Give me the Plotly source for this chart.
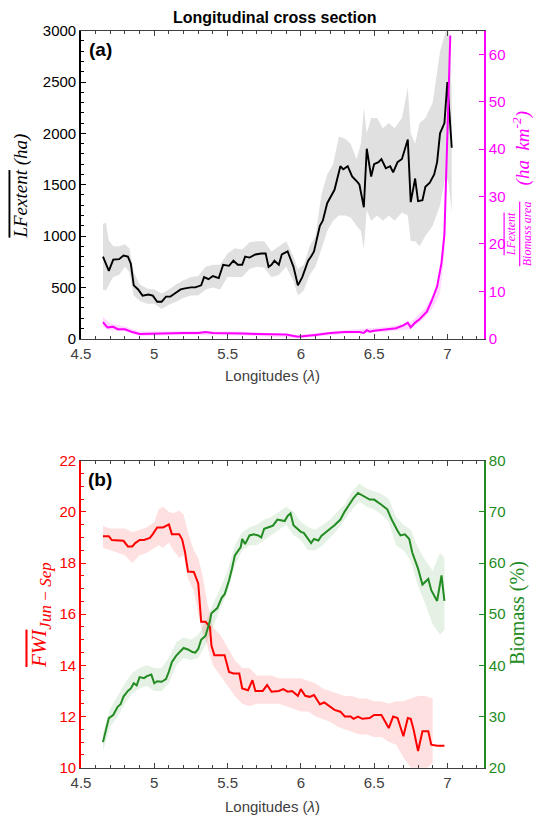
import plotly.graph_objects as go

# ---------------- Panel (a) data ----------------
lf_x = [4.65, 4.69, 4.72, 4.76, 4.79, 4.82, 4.84, 4.86, 4.89, 4.92, 4.96, 4.99, 5.02, 5.05,
        5.08, 5.11, 5.14, 5.18, 5.21, 5.25, 5.28, 5.32, 5.34, 5.37, 5.40, 5.44, 5.47, 5.51,
        5.54, 5.57, 5.60, 5.62, 5.65, 5.69, 5.73, 5.76, 5.78, 5.80, 5.82, 5.85, 5.87, 5.91,
        5.95, 5.98, 6.01, 6.05, 6.07, 6.09, 6.13, 6.15, 6.18, 6.21, 6.23, 6.27, 6.29, 6.32,
        6.35, 6.39, 6.40, 6.43, 6.45, 6.48, 6.50, 6.53, 6.55, 6.58, 6.61, 6.63, 6.66, 6.69,
        6.73, 6.75, 6.78, 6.80, 6.83, 6.85, 6.88, 6.91, 6.93, 6.95, 6.98, 7.00, 7.03]
lf_mean = [800, 660, 770, 775, 810, 800, 730, 520, 480, 420, 430, 420, 360, 360,
           410, 410, 440, 480, 490, 500, 500, 520, 600, 580, 610, 590, 720, 710,
           760, 720, 720, 800, 790, 820, 830, 830, 700, 720, 760, 720, 820, 850,
           700, 520, 600, 760, 800, 850, 1100, 1150, 1320, 1400, 1450, 1680, 1650, 1680,
           1580, 1520, 1500, 1280, 1850, 1580, 1700, 1720, 1750, 1660, 1680, 1620, 1720, 1750,
           1940, 1330, 1560, 1340, 1350, 1480, 1520, 1600, 1720, 2000, 2100, 2500, 1860]

lf_band_x = [4.65, 4.67, 4.69, 4.72, 4.76, 4.80, 4.83, 4.86, 4.90, 4.95, 5.00, 5.05, 5.10,
             5.15, 5.20, 5.25, 5.30, 5.35, 5.40, 5.45, 5.50, 5.55, 5.60, 5.65, 5.70, 5.75,
             5.80, 5.85, 5.90, 5.95, 5.98, 6.02, 6.06, 6.10, 6.14, 6.18, 6.22, 6.26, 6.30,
             6.34, 6.38, 6.41, 6.43, 6.45, 6.48, 6.52, 6.56, 6.60, 6.64, 6.69, 6.73, 6.75,
             6.78, 6.81, 6.85, 6.90, 6.95, 6.99, 7.01, 7.03]
lf_band_hi = [1120, 1130, 960, 900, 900, 920, 880, 650, 530, 490, 480, 440, 480,
              530, 570, 600, 610, 700, 720, 720, 830, 880, 870, 940, 950, 950,
              850, 900, 950, 800, 680, 720, 900, 1000, 1400, 1600, 1700, 1970, 1950,
              1900, 1750, 1900, 2250, 2000, 2150, 2150, 2050, 2100, 2050, 2150, 2450, 2000,
              1900, 2100, 2150, 2300, 2800, 3000, 3000, 2400]
lf_band_lo = [480, 470, 520, 600, 620, 700, 650, 420, 370, 340, 340, 290, 330,
              360, 400, 420, 420, 480, 500, 480, 600, 600, 600, 680, 700, 690,
              600, 620, 700, 560, 420, 470, 620, 700, 870, 1050, 1150, 1200, 1200,
              1180, 1100, 1050, 870, 1250, 1150, 1200, 1150, 1200, 1150, 1230, 1200, 950,
              950, 900, 1000, 1100, 1300, 1600, 1500, 1220]

ratio_x = [4.65, 4.68, 4.72, 4.75, 4.80, 4.85, 4.90, 5.00, 5.10, 5.20, 5.30, 5.35, 5.40,
           5.50, 5.60, 5.70, 5.80, 5.90, 5.98, 6.05, 6.10, 6.20, 6.30, 6.40, 6.43, 6.45,
           6.47, 6.50, 6.60, 6.65, 6.70, 6.73, 6.75, 6.78, 6.81, 6.86, 6.89, 6.93, 6.96,
           6.98, 7.00, 7.02]
ratio_mean = [3.5, 2.4, 2.5, 2.0, 2.0, 1.4, 1.0, 1.1, 1.1, 1.2, 1.2, 1.4, 1.2,
              1.2, 1.1, 1.0, 0.9, 0.9, 0.4, 0.6, 0.8, 1.2, 1.4, 1.4, 1.2, 1.8,
              1.5, 1.7, 2.0, 2.2, 2.8, 3.4, 2.4, 3.4, 4.1, 5.7, 7.8, 11.0, 16.0,
              22.0, 43.0, 64.0]
ratio_band_x = [4.65, 4.70, 4.80, 4.90, 5.20, 5.60, 5.98, 6.30, 6.60, 6.75, 6.85, 6.90,
                6.95, 6.98, 7.00, 7.02]
ratio_band_hi = [4.6, 3.2, 2.6, 1.5, 1.6, 1.5, 0.8, 1.8, 2.5, 3.5, 6.5, 9.0,
                 14.0, 25.0, 47.0, 65.0]
ratio_band_lo = [2.5, 1.8, 1.5, 0.6, 0.8, 0.7, 0.1, 1.0, 1.5, 2.0, 4.5, 6.5,
                 9.5, 18.0, 38.0, 60.0]

# ---------------- Panel (b) data ----------------
fwi_x = [4.65, 4.69, 4.71, 4.76, 4.79, 4.82, 4.85, 4.87, 4.90, 4.93, 4.97, 4.99, 5.02, 5.06,
         5.10, 5.12, 5.17, 5.19, 5.21, 5.23, 5.27, 5.30, 5.32, 5.35, 5.38, 5.39, 5.41, 5.45,
         5.48, 5.51, 5.54, 5.58, 5.60, 5.64, 5.67, 5.69, 5.74, 5.77, 5.80, 5.85, 5.88, 5.91,
         5.94, 5.98, 6.00, 6.03, 6.06, 6.09, 6.13, 6.16, 6.20, 6.23, 6.27, 6.30, 6.34, 6.36,
         6.39, 6.42, 6.47, 6.50, 6.55, 6.60, 6.63, 6.66, 6.70, 6.73, 6.75, 6.77, 6.80, 6.83,
         6.87, 6.89, 6.93, 6.98]
fwi_mean = [19.05, 19.05, 18.9, 18.88, 18.87, 18.65, 18.65, 18.78, 18.9, 18.9, 18.98, 19.13, 19.39, 19.39,
            19.51, 19.13, 19.13, 18.93, 18.42, 17.67, 17.65, 17.2, 15.7, 15.7, 15.5, 14.77, 14.4, 14.4,
            14.4, 13.74, 13.68, 13.68, 13.1, 13.03, 13.42, 13.0, 13.0, 13.23, 12.97, 13.0, 13.07, 12.97,
            13.0, 12.81, 13.07, 12.81, 12.77, 12.84, 12.48, 12.55, 12.39, 12.26, 12.19, 12.0, 12.0, 11.91,
            12.0, 11.91, 11.94, 12.06, 12.06, 11.55, 12.0, 11.94, 11.23, 11.94, 11.91, 11.48, 10.65, 11.42,
            11.42, 10.9, 10.86, 10.86]
fwi_band_x = [4.65, 4.70, 4.75, 4.80, 4.85, 4.90, 4.95, 5.00, 5.03, 5.06, 5.10, 5.13, 5.17,
              5.20, 5.23, 5.27, 5.30, 5.33, 5.36, 5.40, 5.45, 5.50, 5.55, 5.60, 5.65, 5.70,
              5.75, 5.80, 5.85, 5.90, 5.95, 6.00, 6.05, 6.10, 6.15, 6.20, 6.25, 6.30, 6.35,
              6.40, 6.45, 6.50, 6.55, 6.60, 6.65, 6.70, 6.75, 6.80, 6.85, 6.90]
fwi_band_hi = [19.45, 19.35, 19.35, 19.35, 19.2, 19.3, 19.4, 19.6, 20.1, 20.2, 20.0, 19.95, 20.05,
               19.9, 19.2, 18.5, 18.2, 17.5, 16.5, 15.5, 15.2, 14.7, 14.2, 13.9, 13.9, 13.6,
               13.6, 13.6, 13.5, 13.5, 13.5, 13.5, 13.4, 13.3, 13.1, 13.0, 12.9, 12.8, 12.8,
               12.7, 12.7, 12.6, 12.6, 12.5, 12.6, 12.6, 12.7, 12.8, 12.8, 12.7]
fwi_band_lo = [18.6, 18.5, 18.4, 18.3, 18.0, 18.3, 18.4, 18.6, 18.7, 18.6, 18.8, 18.5, 18.2,
               18.3, 17.4, 16.9, 16.0, 15.3, 14.8, 14.0, 13.6, 13.2, 12.8, 12.5, 12.4, 12.5,
               12.5, 12.5, 12.5, 12.4, 12.3, 12.2, 12.2, 12.0, 11.9, 11.8, 11.6, 11.5, 11.4,
               11.3, 11.3, 11.2, 11.2, 11.0, 10.9, 10.4, 10.0, 9.8, 9.9, 10.2]

bio_x = [4.65, 4.69, 4.72, 4.75, 4.77, 4.79, 4.82, 4.84, 4.86, 4.88, 4.90, 4.93, 4.95, 4.98,
         5.00, 5.02, 5.05, 5.08, 5.10, 5.12, 5.15, 5.18, 5.20, 5.23, 5.26, 5.28, 5.30, 5.32,
         5.35, 5.38, 5.39, 5.43, 5.46, 5.48, 5.51, 5.53, 5.55, 5.59, 5.60, 5.62, 5.65, 5.68,
         5.71, 5.73, 5.75, 5.79, 5.81, 5.84, 5.87, 5.89, 5.91, 5.93, 5.95, 5.98, 6.00, 6.02,
         6.05, 6.07, 6.09, 6.12, 6.14, 6.17, 6.20, 6.23, 6.27, 6.30, 6.33, 6.36, 6.39, 6.41,
         6.44, 6.47, 6.50, 6.53, 6.55, 6.59, 6.62, 6.66, 6.68, 6.71, 6.74, 6.76, 6.80, 6.83,
         6.87, 6.89, 6.93, 6.96, 6.98]
bio_mean = [25.0, 29.7, 30.3, 31.9, 32.4, 33.9, 35.0, 35.5, 36.5, 36.1, 37.7, 37.5, 37.9, 38.2,
            36.5, 36.9, 36.8, 37.3, 38.8, 40.6, 41.9, 42.9, 43.4, 43.1, 42.6, 42.5, 43.2, 45.0,
            45.8, 48.7, 50.2, 51.2, 53.2, 53.9, 56.6, 58.9, 61.5, 63.1, 64.7, 63.7, 65.4, 65.6,
            65.4, 65.0, 66.7, 67.1, 67.3, 68.5, 68.4, 68.2, 69.2, 69.7, 67.4, 66.7, 66.1, 65.9,
            64.7, 63.9, 64.7, 64.4, 65.3, 66.1, 66.7, 67.4, 68.5, 70.1, 71.4, 72.7, 73.7, 73.4,
            72.9, 72.4, 72.4, 71.9, 71.4, 70.5, 68.5, 66.3, 65.4, 65.6, 64.7, 62.1, 58.9, 55.8,
            56.9, 54.7, 52.6, 57.6, 52.6]
bio_band_x = [4.65, 4.70, 4.75, 4.80, 4.85, 4.90, 4.95, 5.00, 5.05, 5.10, 5.15, 5.20, 5.25,
              5.30, 5.35, 5.40, 5.45, 5.50, 5.55, 5.60, 5.65, 5.70, 5.75, 5.80, 5.85, 5.90,
              5.95, 6.00, 6.05, 6.10, 6.15, 6.20, 6.25, 6.30, 6.35, 6.40, 6.45, 6.50, 6.55,
              6.60, 6.65, 6.70, 6.75, 6.80, 6.85, 6.90, 6.95, 6.98]
bio_band_hi = [26.8, 31.5, 34.0, 36.5, 38.5, 39.5, 40.0, 39.5, 39.5, 41.5, 44.5, 45.5, 45.0,
               46.0, 48.5, 52.0, 55.0, 58.5, 63.5, 66.0, 67.0, 67.5, 68.5, 69.0, 70.0, 71.0,
               70.0, 68.0, 67.0, 66.5, 67.5, 68.5, 70.0, 71.5, 74.0, 75.5, 74.5, 74.0, 73.5,
               72.5, 69.0, 67.5, 66.5, 63.0, 60.5, 58.5, 62.0, 61.0]
bio_band_lo = [23.2, 28.0, 30.0, 32.5, 34.5, 35.5, 36.0, 35.0, 35.0, 36.5, 40.0, 41.5, 41.0,
               41.5, 44.0, 47.5, 51.0, 54.5, 59.5, 62.5, 63.5, 63.5, 64.5, 65.5, 66.5, 67.5,
               65.5, 64.5, 62.5, 62.5, 63.5, 65.0, 66.5, 68.5, 70.5, 72.0, 71.0, 70.5, 69.5,
               68.0, 63.5, 62.5, 60.5, 55.5, 52.0, 48.0, 46.0, 47.0]

x_ticks = [4.5, 5, 5.5, 6, 6.5, 7]
x_tick_text = ["4.5", "5", "5.5", "6", "6.5", "7"]

# ---------------- styles ----------------
BLACK = "#000000"
MAGENTA = "#FF00FF"
RED = "#FF0000"
GREEN = "#228B22"
AXGRAY = "#404040"
SANS = "Liberation Sans, Arial, sans-serif"
SERIF = "Liberation Serif, Times New Roman, serif"

fig = go.Figure()


def band(x, lo, hi, color, xa, ya):
    fig.add_trace(go.Scatter(x=list(x) + list(x[::-1]), y=list(hi) + list(lo[::-1]),
                             fill="toself", fillcolor=color, line=dict(width=0),
                             mode="lines", hoverinfo="skip", showlegend=False,
                             xaxis=xa, yaxis=ya))


def line(x, y, color, xa, ya, w=2):
    fig.add_trace(go.Scatter(x=x, y=y, mode="lines", line=dict(color=color, width=w),
                             showlegend=False, xaxis=xa, yaxis=ya))


band(lf_band_x, lf_band_lo, lf_band_hi, "rgba(0,0,0,0.12)", "x", "y")
line(lf_x, lf_mean, BLACK, "x", "y", 1.9)
band(ratio_band_x, ratio_band_lo, ratio_band_hi, "rgba(255,0,255,0.15)", "x", "y2")
line(ratio_x, ratio_mean, MAGENTA, "x", "y2", 2)

band(fwi_band_x, fwi_band_lo, fwi_band_hi, "rgba(255,0,0,0.12)", "x2", "y3")
line(fwi_x, fwi_mean, RED, "x2", "y3", 2)
band(bio_band_x, bio_band_lo, bio_band_hi, "rgba(34,139,34,0.12)", "x2", "y4")
line(bio_x, bio_mean, GREEN, "x2", "y4", 2)

TOP = [0.5849, 0.9624]
BOT = [0.0592, 0.4354]


def xax(anchor):
    return dict(domain=[0, 1], anchor=anchor, range=[4.5, 7.25], tickvals=x_ticks,
                ticktext=x_tick_text, ticks="inside", ticklen=5, tickwidth=1.2,
                tickcolor=AXGRAY, showline=True, linecolor=AXGRAY, linewidth=1.3,
                mirror="ticks", showgrid=False, zeroline=False, ticklabelstandoff=1,
                automargin=False,
                tickfont=dict(family=SANS, size=15, color=AXGRAY),
                minor=dict(dtick=0.1, tick0=4.5, ticks="inside", ticklen=3,
                           tickcolor=AXGRAY, tickwidth=1),
                fixedrange=True)


def yax(dom, rng, dtick, color, side="left", overlay=None, minor=None, anchor="x"):
    d = dict(domain=dom, range=rng, dtick=dtick, tick0=rng[0], ticks="inside", ticklen=5,
             tickwidth=1.3, tickcolor=color, showline=True, linecolor=color, linewidth=1.6,
             showgrid=False, zeroline=False, side=side, anchor=anchor, automargin=False,
             tickfont=dict(family=SANS, size=15, color=color), fixedrange=True)
    if overlay:
        d["overlaying"] = overlay
    if minor:
        d["minor"] = dict(dtick=minor, ticks="inside", ticklen=3, tickcolor=color, tickwidth=1)
    return d


fig.update_layout(
    width=539, height=816, autosize=False,
    margin=dict(l=81, r=55, t=0, b=0, pad=0),
    paper_bgcolor="white", plot_bgcolor="white",
    xaxis=xax("y"),
    yaxis=yax(TOP, [0, 3000], 500, BLACK, minor=100),
    yaxis2=yax(TOP, [0, 65], 10, MAGENTA, side="right", overlay="y"),
    xaxis2=xax("y3"),
    yaxis3=yax(BOT, [10, 22], 2, RED, minor=0.5, anchor="x2"),
    yaxis4=yax(BOT, [20, 80], 10, GREEN, side="right", overlay="y3", anchor="x2"),
)

OV = '<span style="text-decoration:overline">'
ann = [
    dict(text="<b>Longitudinal cross section</b>", x=0.481, y=0.979,
         font=dict(family=SANS, size=16, color="black")),
    dict(text="<b>(a)</b>", x=0.015, y=0.939, xanchor="left",
         font=dict(family=SANS, size=19, color="black")),
    dict(text="<b>(b)</b>", x=0.012, y=0.412, xanchor="left",
         font=dict(family=SANS, size=19, color="black")),
    dict(text="Longitudes (<i>λ</i>)", x=0.476, y=0.540,
         font=dict(family=SANS, size=15, color=AXGRAY)),
    dict(text="Longitudes (<i>λ</i>)", x=0.476, y=0.012,
         font=dict(family=SANS, size=15, color=AXGRAY)),
    dict(text="<i>" + OV + "LFextent</span> (ha)</i>", x=-0.150, y=0.772, textangle=-90,
         font=dict(family=SERIF, size=19, color="black")),
    dict(text="<i>(ha\u2002km<sup>-2</sup>)</i>", x=1.094, y=0.818, textangle=-90,
         font=dict(family=SERIF, size=19, color=MAGENTA)),
    dict(text="<i>" + OV + "LFextent</span><br>" + OV + "Biomass\u2009area</span></i>",
         x=1.089, y=0.714, textangle=-90,
         font=dict(family=SERIF, size=12, color=MAGENTA)),
    dict(text="<i>" + OV + "FWI</span><sub><span style=\"font-size:17px\">Jun\u2009−\u2009Sep</span></sub></i>",
         x=-0.100, y=0.246, textangle=-90, font=dict(family=SERIF, size=21, color=RED)),
    dict(text="Biomass (%)", x=1.085, y=0.249, textangle=-90,
         font=dict(family=SERIF, size=20, color=GREEN)),
]
for a in ann:
    a.setdefault("xref", "paper")
    a.setdefault("yref", "paper")
    a.setdefault("showarrow", False)
    a.setdefault("xanchor", "center")
    a.setdefault("yanchor", "middle")
fig.update_layout(annotations=ann)

fig.write_html(
    "out.html", config={"displayModeBar": False},
    post_script=("document.documentElement.style.margin='0';"
                 "document.documentElement.style.overflow='hidden';"
                 "document.body.style.margin='0';"
                 "document.body.style.padding='0';"
                 "document.body.style.overflow='hidden';"))
